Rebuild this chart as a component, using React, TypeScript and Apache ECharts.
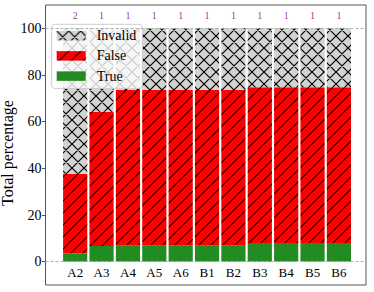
import React, { useEffect, useRef } from "react";
import * as echarts from "echarts";

const categories = ["A2", "A3", "A4", "A5", "A6", "B1", "B2", "B3", "B4", "B5", "B6"];
const trueValues = [3.6, 6.7, 7.1, 7.1, 7.1, 7.1, 7.1, 8.0, 8.0, 8.0, 8.0];
const falseValues = [34.1, 57.6, 66.5, 66.5, 66.5, 66.5, 66.5, 66.7, 66.7, 66.7, 66.7];
const invalidValues = [62.3, 35.7, 26.4, 26.4, 26.4, 26.4, 26.4, 25.3, 25.3, 25.3, 25.3];
const topCounts = ["2", "1", "1", "1", "1", "1", "1", "1", "1", "1", "1"];
const yTicks = [0, 20, 40, 60, 80, 100];
const seriesNames = ["Invalid", "False", "True"];

const FONT = "Liberation Serif";

function hatch(bg: string, cross: boolean) {
  const s = 12;
  const c = document.createElement("canvas");
  c.width = s;
  c.height = s;
  const ctx = c.getContext("2d")!;
  ctx.fillStyle = bg;
  ctx.fillRect(0, 0, s, s);
  ctx.strokeStyle = "#000";
  ctx.lineWidth = 1.2;
  ctx.beginPath();
  for (const k of [-s, 0, s]) {
    ctx.moveTo(-2, s + k + 2);
    ctx.lineTo(s + 2, k - 2);
    if (cross) {
      ctx.moveTo(-2, -2 - k);
      ctx.lineTo(s + 2, s + 2 - k);
    }
  }
  ctx.stroke();
  return { image: c, repeat: "repeat", imageWidth: s, imageHeight: s } as any;
}

export default function App() {
  const ref = useRef<HTMLDivElement>(null);
  useEffect(() => {
    const chart = echarts.init(ref.current!, null, { renderer: "svg" });
    const invalidFill = hatch("#d3d3d3", true);
    const falseFill = hatch("#ff0000", false);
    const barW = 24.2;
    const Y_MIN = -10;
    const Y_MAX = 110;
    const COUNT_Y = 105.7;
    const hiddenAxis = {
      axisLine: { show: false },
      axisTick: { show: false },
      axisLabel: { show: false },
      splitLine: { show: false },
    };
    chart.setOption({
      animation: false,
      textStyle: { fontFamily: FONT },
      grid: [
        {
          left: 45.5,
          right: 8,
          top: 5,
          bottom: 7,
          show: true,
          borderColor: "#555",
          borderWidth: 1,
          backgroundColor: "transparent",
          outerBoundsMode: "none",
          containLabel: false,
        },
        { left: 62, right: 21.9, top: 5, bottom: 7, outerBoundsMode: "none", containLabel: false },
      ],
      legend: {
        data: seriesNames,
        orient: "vertical",
        left: 51.7,
        top: 24.3,
        icon: "rect",
        itemWidth: 29,
        itemHeight: 9.5,
        itemGap: 6.2,
        padding: [4.4, 6, 5.3, 5],
        backgroundColor: "rgba(255,255,255,0.8)",
        borderColor: "#cccccc",
        borderWidth: 1,
        borderRadius: 3,
        textStyle: { fontFamily: FONT, fontSize: 14, color: "#000", lineHeight: 14, padding: [0, 0, 0, 6] },
      },
      xAxis: [
        { type: "value", gridIndex: 0, min: 0, max: 1, ...hiddenAxis },
        {
          type: "category",
          gridIndex: 1,
          data: categories,
          axisLine: { show: false },
          axisTick: { show: false },
          splitLine: { show: false },
          axisLabel: { margin: -19.5, fontFamily: FONT, fontSize: 13, color: "#000", interval: 0 },
        },
      ],
      yAxis: [
        {
          type: "value",
          gridIndex: 0,
          min: Y_MIN,
          max: Y_MAX,
          name: "Total percentage",
          nameLocation: "middle",
          nameGap: 30,
          nameMoveOverlap: false,
          nameTextStyle: { fontFamily: FONT, fontSize: 16, color: "#000", padding: [0, 16, 0, 0] },
          axisLine: { show: false },
          splitLine: { show: false },
          axisTick: {
            show: true,
            customValues: yTicks,
            inside: false,
            length: 3.5,
            lineStyle: { color: "#555", width: 1 },
          },
          axisLabel: { customValues: yTicks, margin: 4, fontFamily: FONT, fontSize: 14, color: "#000" },
        },
        { type: "value", gridIndex: 1, min: Y_MIN, max: Y_MAX, ...hiddenAxis },
      ],
      series: [
        {
          name: "refLines",
          type: "line",
          xAxisIndex: 0,
          yAxisIndex: 0,
          data: [],
          markLine: {
            silent: true,
            symbol: "none",
            label: { show: false },
            lineStyle: { color: "#b0b0b0", type: [3, 2], width: 1 },
            data: [{ yAxis: 0 }, { yAxis: 100 }],
          },
        },
        {
          name: "True",
          type: "bar",
          stack: "total",
          xAxisIndex: 1,
          yAxisIndex: 1,
          barWidth: barW,
          itemStyle: { color: "#228b22" },
          data: trueValues,
        },
        {
          name: "False",
          type: "bar",
          stack: "total",
          xAxisIndex: 1,
          yAxisIndex: 1,
          barWidth: barW,
          itemStyle: { color: falseFill },
          data: falseValues,
        },
        {
          name: "Invalid",
          type: "bar",
          stack: "total",
          xAxisIndex: 1,
          yAxisIndex: 1,
          barWidth: barW,
          itemStyle: { color: invalidFill },
          data: invalidValues,
        },
        {
          name: "counts",
          type: "scatter",
          xAxisIndex: 1,
          yAxisIndex: 1,
          symbolSize: 1,
          itemStyle: { color: "rgba(0,0,0,0)" },
          data: topCounts.map(() => COUNT_Y),
          label: {
            show: true,
            position: "inside",
            formatter: (p: any) => topCounts[p.dataIndex],
            color: "#800080",
            fontFamily: FONT,
            fontSize: 10,
          },
        },
      ],
    });
    return () => chart.dispose();
  }, []);
  return <div ref={ref} style={{ width: 374, height: 292, position: "absolute", left: 0, top: 0 }} />;
}
